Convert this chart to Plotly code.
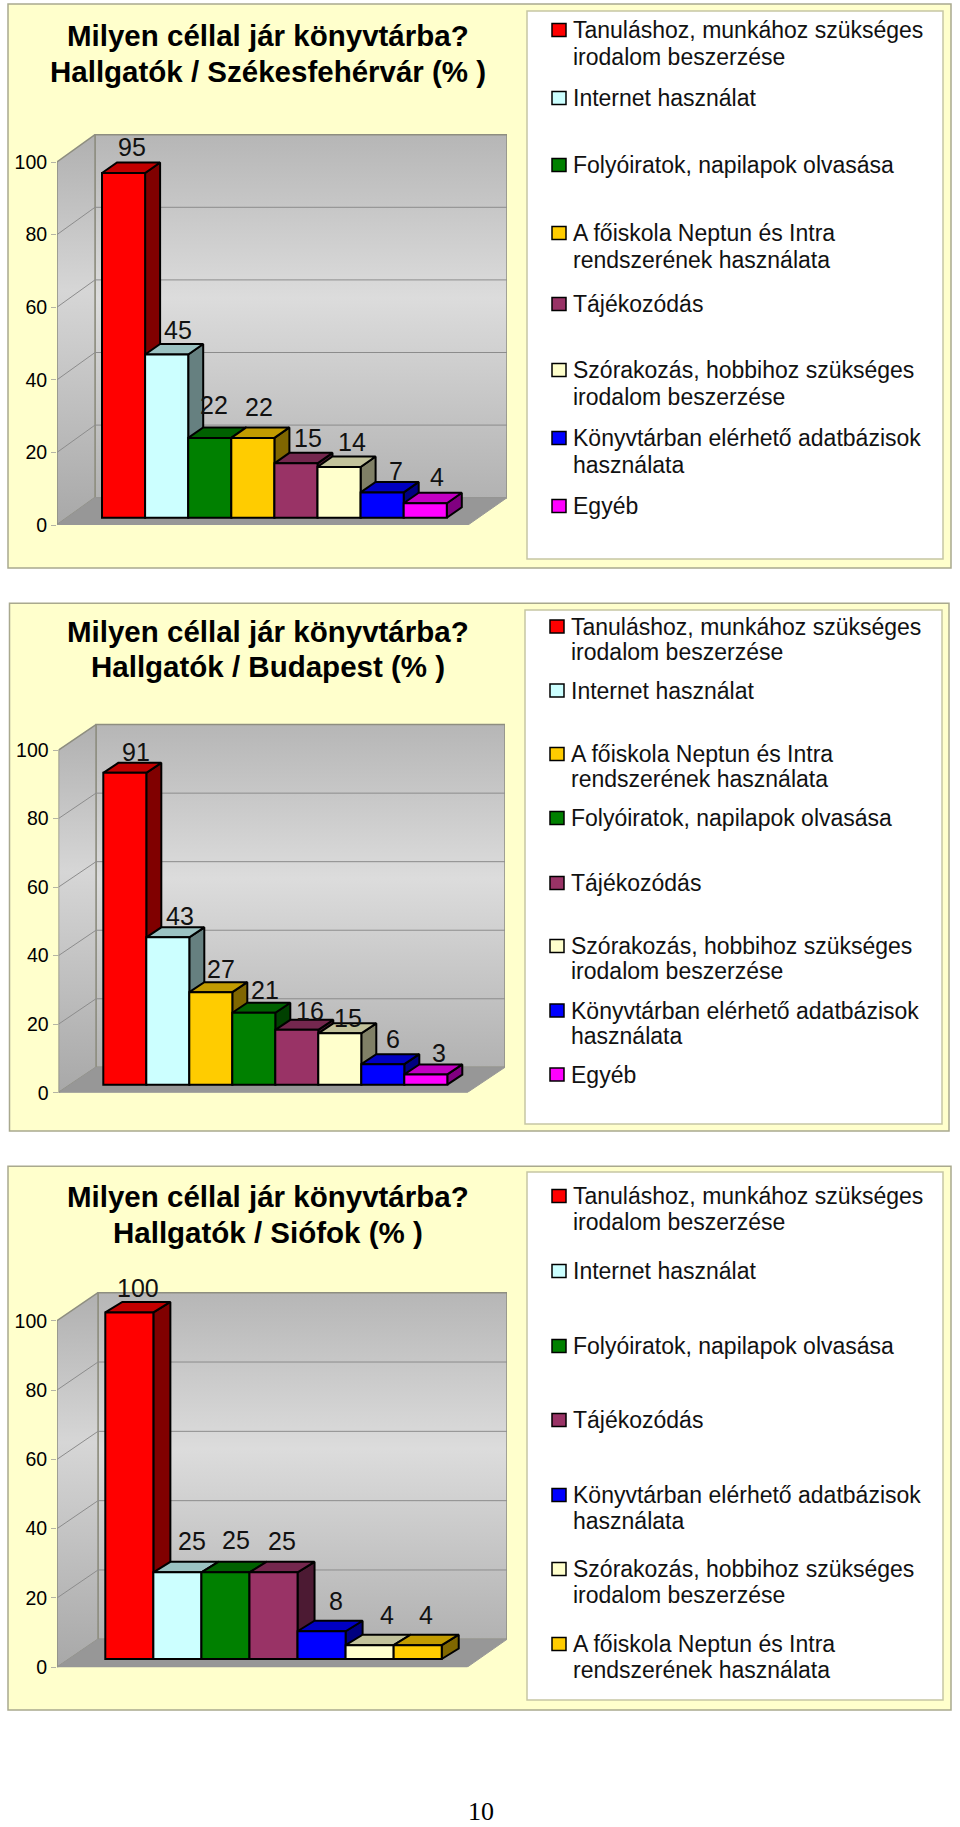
"""Three Excel-style 3D column charts: why students go to the library, by campus."""

import plotly.graph_objects as go

WIDTH = 960
HEIGHT = 1827

TICKS = [0, 20, 40, 60, 80, 100]

STUDY = "Tanuláshoz, munkához szükséges irodalom beszerzése"
INTERNET = "Internet használat"
PERIODICALS = "Folyóiratok, napilapok olvasása"
NEPTUN = "A főiskola Neptun és Intra rendszerének használata"
ORIENTATION = "Tájékozódás"
LEISURE = "Szórakozás, hobbihoz szükséges irodalom beszerzése"
DATABASES = "Könyvtárban elérhető adatbázisok használata"
OTHER = "Egyéb"

TITLE_LINE_1 = "Milyen céllal jár könyvtárba?"

CATEGORIES_SZFV = [STUDY, INTERNET, PERIODICALS, NEPTUN, ORIENTATION, LEISURE, DATABASES, OTHER]
VALUES_SZFV = [95, 45, 22, 22, 15, 14, 7, 4]

CATEGORIES_BP = [STUDY, INTERNET, NEPTUN, PERIODICALS, ORIENTATION, LEISURE, DATABASES, OTHER]
VALUES_BP = [91, 43, 27, 21, 16, 15, 6, 3]

CATEGORIES_SIOFOK = [STUDY, INTERNET, PERIODICALS, ORIENTATION, DATABASES, LEISURE, NEPTUN]
VALUES_SIOFOK = [100, 25, 25, 25, 8, 4, 4]

# front face colour per category; side and top faces are darkened from it
COLORS = {
    STUDY: (255, 0, 0),
    INTERNET: (204, 255, 255),
    PERIODICALS: (0, 128, 0),
    NEPTUN: (255, 204, 0),
    ORIENTATION: (153, 51, 102),
    LEISURE: (255, 255, 204),
    DATABASES: (0, 0, 255),
    OTHER: (255, 0, 255),
}

# legend line breaks, as wrapped in the original
WRAPPED = {
    STUDY: ["Tanuláshoz, munkához szükséges", "irodalom beszerzése"],
    INTERNET: ["Internet használat"],
    PERIODICALS: ["Folyóiratok, napilapok olvasása"],
    NEPTUN: ["A főiskola Neptun és Intra", "rendszerének használata"],
    ORIENTATION: ["Tájékozódás"],
    LEISURE: ["Szórakozás, hobbihoz szükséges", "irodalom beszerzése"],
    DATABASES: ["Könyvtárban elérhető adatbázisok", "használata"],
    OTHER: ["Egyéb"],
}

FONT = "Liberation Sans"
FRAME_FILL = "#ffffcc"
FRAME_LINE = "#a9a98e"
LEGEND_LINE = "#c6c6a4"
WALL_LINE = "#8e8e80"
GRID_LINE = "#8c8c8c"
FLOOR_FILL = "#979797"
WALL_SCALE = [[0, "#b2b2b2"], [0.55, "#dcdcdc"], [1, "#b6b6b6"]]
SIDE_SCALE = [[0, "#a8a8a8"], [0.6, "#d6d6d6"], [1, "#b0b0b0"]]

# all pixel geometry of the page, one block per chart
CHARTS = [
    dict(
        title="Hallgatók / Székesfehérvár (% )", categories=CATEGORIES_SZFV, values=VALUES_SZFV,
        frame=(8, 4, 951, 568), legend=(527, 11, 943, 559),
        title_y=(35, 72), swatch_x=552, text_x=571,
        legend_y=[30, 98, 165, 233, 304, 370, 438, 506], line_gap=27,
        front_x=57, back_x=95, right_x=507, front_right_x=468,
        y0=525, scale=3.63, floor_dy=27.3,
        bar_left=102, bar_w=43.1, base=517.8, depth=(15, 10.5),
        nudge_x=[1, 4, -3, -1, 5, 5, 6, 4], nudge_y=[15, 14, 22, 20, 15, 14, 11, 16],
    ),
    dict(
        title="Hallgatók / Budapest (% )", categories=CATEGORIES_BP, values=VALUES_BP,
        frame=(9.5, 603.3, 949, 1131), legend=(525, 610, 942, 1124),
        title_y=(631, 666), swatch_x=550, text_x=569,
        legend_y=[626.5, 690.5, 754, 818, 883, 946, 1010.5, 1074.5], line_gap=25,
        front_x=58.5, back_x=96, right_x=505, front_right_x=467,
        y0=1092.7, scale=3.427, floor_dy=25.4,
        bar_left=103.3, bar_w=43, base=1084.7, depth=(15, 10),
        nudge_x=[4, 5, 3, 4, 6, 1, 3, 6], nudge_y=[11, 11, 13, 13, 9, 5, 15, 11],
    ),
    dict(
        title="Hallgatók / Siófok (% )", categories=CATEGORIES_SIOFOK, values=VALUES_SIOFOK,
        frame=(8, 1166.3, 951, 1710), legend=(527, 1172, 943, 1700),
        title_y=(1196, 1232), swatch_x=552, text_x=571,
        legend_y=[1196, 1271, 1346, 1420, 1495, 1569, 1644], line_gap=26,
        front_x=57, back_x=98, right_x=507, front_right_x=467,
        y0=1667.3, scale=3.466, floor_dy=28,
        bar_left=105.3, bar_w=48.06, base=1659, depth=(17, 10.5),
        nudge_x=[0, 6, 2, 0, 6, 9, 0], nudge_y=[14, 21, 22, 21, 20, 20, 20],
    ),
]


def shade(rgb, factor):
    return "rgb({},{},{})".format(*[round(c * factor) for c in rgb])


def paper_x(px):
    return px / WIDTH


def paper_y(px):
    return 1 - px / HEIGHT


def polygon(fig, xs, ys, axes, fill, line_color, line_width, zorder, gradient=None):
    fig.add_trace(
        go.Scatter(
            x=xs + xs[:1],
            y=ys + ys[:1],
            mode="lines",
            fill="toself",
            fillcolor=fill,
            fillgradient=gradient,
            line=dict(color=line_color, width=line_width),
            hoverinfo="skip",
            showlegend=False,
            zorder=zorder,
            **axes,
        )
    )


def add_chart(fig, n, c):
    axes = dict(xaxis=f"x{n}", yaxis=f"y{n}")
    annotations = []

    def ux(px):
        return (px - c["bar_left"]) / c["bar_w"] - 0.5

    def uy(py):
        return (c["y0"] - py) / c["scale"]

    x_front, x_back, x_right = ux(c["front_x"]), ux(c["back_x"]), ux(c["right_x"])
    x_front_right = ux(c["front_right_x"])
    wall_lift = c["floor_dy"] / c["scale"]
    bar_lift = uy(c["base"])
    depth_x = c["depth"][0] / c["bar_w"]
    depth_y = c["depth"][1] / c["scale"]

    top = max(TICKS) + wall_lift

    # walls and floor
    polygon(
        fig, [x_back, x_right, x_right, x_back], [wall_lift, wall_lift, top, top], axes,
        "#cccccc", WALL_LINE, 1.5, 0, dict(type="vertical", colorscale=WALL_SCALE),
    )
    polygon(
        fig, [x_front, x_back, x_back, x_front], [0, wall_lift, top, max(TICKS)], axes,
        "#cccccc", WALL_LINE, 1.5, 0, dict(type="vertical", colorscale=SIDE_SCALE),
    )
    polygon(
        fig, [x_front, x_front_right, x_right, x_back], [0, 0, wall_lift, wall_lift], axes,
        FLOOR_FILL, FLOOR_FILL, 1, 1,
    )
    for tick in TICKS[1:-1]:
        fig.add_trace(
            go.Scatter(
                x=[x_front, x_back, x_right],
                y=[tick, tick + wall_lift, tick + wall_lift],
                mode="lines",
                line=dict(color=GRID_LINE, width=1),
                hoverinfo="skip",
                showlegend=False,
                zorder=1,
                **axes,
            )
        )

    # columns, left to right so each one covers the side of its neighbour
    for i, (cat, value) in enumerate(zip(c["categories"], c["values"])):
        rgb = COLORS[cat]
        left, right = i - 0.5, i + 0.5
        low, high = bar_lift, bar_lift + value
        z = 10 + 2 * i
        polygon(
            fig,
            [right, right, right + depth_x, right + depth_x],
            [low, high, high + depth_y, low + depth_y],
            axes, shade(rgb, 0.5), "black", 2, z,
        )
        polygon(
            fig,
            [left, right, right + depth_x, left + depth_x],
            [high, high, high + depth_y, high + depth_y],
            axes, shade(rgb, 0.76), "black", 2, z,
        )
        fig.add_trace(
            go.Bar(
                x=[i],
                y=[value],
                base=[bar_lift],
                width=1,
                marker=dict(color=shade(rgb, 1), line=dict(color="black", width=2)),
                hoverinfo="skip",
                showlegend=False,
                zorder=z + 1,
                **axes,
            )
        )
        annotations.append(
            dict(
                x=i + depth_x / 2,
                y=high + depth_y,
                xref=f"x{n}",
                yref=f"y{n}",
                text=str(value),
                showarrow=False,
                xanchor="center",
                yanchor="middle",
                xshift=c["nudge_x"][i],
                yshift=c["nudge_y"][i],
                font=dict(family=FONT, size=25, color="#111111"),
            )
        )

    # frame and legend box
    for box, fill, line in (
        (c["frame"], FRAME_FILL, FRAME_LINE),
        (c["legend"], "white", LEGEND_LINE),
    ):
        fig.add_shape(
            type="rect", xref="paper", yref="paper", layer="below",
            x0=paper_x(box[0]), x1=paper_x(box[2]), y0=paper_y(box[1]), y1=paper_y(box[3]),
            fillcolor=fill, line=dict(color=line, width=1.5),
        )

    # title
    for text, y in zip((TITLE_LINE_1, c["title"]), c["title_y"]):
        annotations.append(
            dict(
                x=paper_x(268), y=paper_y(y), xref="paper", yref="paper", text=text,
                showarrow=False, xanchor="center", yanchor="middle",
                font=dict(family=FONT, size=29.5, color="black", weight="bold"),
            )
        )

    # legend
    for cat, y in zip(c["categories"], c["legend_y"]):
        fig.add_shape(
            type="rect", xref="paper", yref="paper", layer="above",
            x0=paper_x(c["swatch_x"]), x1=paper_x(c["swatch_x"] + 14),
            y0=paper_y(y - 6.5), y1=paper_y(y + 6.5),
            fillcolor=shade(COLORS[cat], 1), line=dict(color="black", width=1.5),
        )
        for k, line in enumerate(WRAPPED[cat]):
            annotations.append(
                dict(
                    x=paper_x(c["text_x"]), y=paper_y(y + k * c["line_gap"]),
                    xref="paper", yref="paper", text=line, showarrow=False,
                    xanchor="left", yanchor="middle",
                    font=dict(family=FONT, size=23, color="#111111"),
                )
            )

    # axes are laid over the chart area so one unit is one column / one percent
    sky_py = c["y0"] - 115 * c["scale"]
    bottom_py = c["y0"]
    fig.update_layout(
        **{
            f"xaxis{n}": dict(
                domain=[paper_x(c["front_x"]), paper_x(c["right_x"])],
                range=[x_front, x_right],
                visible=False,
                automargin=False,
                anchor=f"y{n}",
            ),
            f"yaxis{n}": dict(
                domain=[paper_y(bottom_py), paper_y(sky_py)],
                range=[uy(bottom_py), uy(sky_py)],
                anchor=f"x{n}",
                automargin=False,
                tickvals=TICKS,
                showgrid=False,
                zeroline=False,
                showline=False,
                ticks="outside",
                ticklen=5,
                tickcolor="#b4b4a4",
                tickfont=dict(family=FONT, size=19.5, color="black"),
            ),
        }
    )
    return annotations


fig = go.Figure()
annotations = []
for n, chart in enumerate(CHARTS, start=1):
    annotations += add_chart(fig, n, chart)

annotations.append(
    dict(
        x=paper_x(481), y=paper_y(1811), xref="paper", yref="paper", text="10",
        showarrow=False, xanchor="center", yanchor="middle",
        font=dict(family="Liberation Serif", size=26, color="black"),
    )
)

fig.update_layout(
    width=WIDTH,
    height=HEIGHT,
    margin=dict(l=0, r=0, t=0, b=0, autoexpand=False),
    paper_bgcolor="white",
    plot_bgcolor="rgba(0,0,0,0)",
    barmode="overlay",
    annotations=annotations,
)

# the browser's default body margin would push the whole page 8px off
fig.write_html(
    "out.html",
    config=dict(displayModeBar=False),
    post_script="document.body.style.margin = '0';",
)
